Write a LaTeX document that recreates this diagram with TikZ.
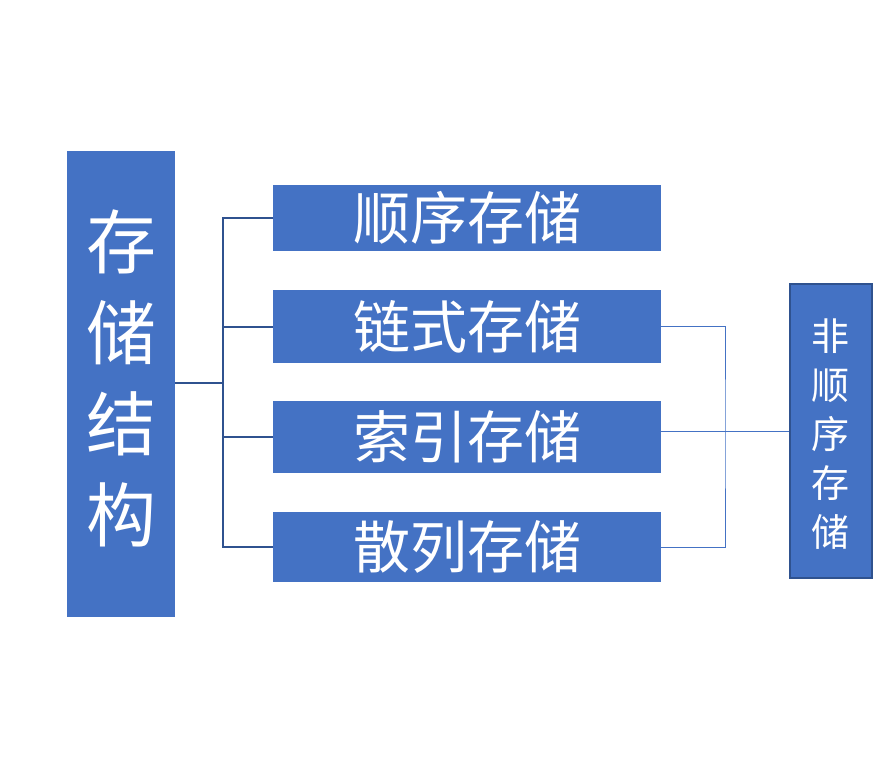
\documentclass[tikz,border=0pt]{standalone}
\usepackage{fontspec}
\setmainfont{Noto Sans CJK SC}
\definecolor{boxblue}{HTML}{4472C4}
\definecolor{darkblue}{HTML}{2F528F}
\begin{document}
\begin{tikzpicture}[x=1pt,y=-1pt,
  blk/.style={fill=boxblue,draw=none,inner sep=0pt,text=white,anchor=north west},
  item/.style={blk,minimum width=388pt,font=\fontsize{57}{60}\selectfont},
  tree/.style={draw=darkblue,line width=2pt},
  thin/.style={draw=boxblue,line width=1pt}]
\useasboundingbox (0,0) rectangle (876,769);
\node[blk,minimum width=108pt,minimum height=466pt] (main) at (67,151) {};
\node[text=white,align=center,inner sep=0pt,
  font=\fontsize{70}{91}\selectfont] (mt) at (121,378) {存\\储\\结\\构};
\node[item,minimum height=66pt] (a) at (273,185) {顺序存储};
\node[item,minimum height=73pt] (b) at (273,290) {链式存储};
\node[item,minimum height=72pt] (c) at (273,401) {索引存储};
\node[item,minimum height=70pt] (d) at (273,512) {散列存储};
\node[blk,draw=darkblue,line width=2pt,minimum width=82pt,minimum height=294pt] (r) at (789,283) {};
\node[text=white,align=center,inner sep=0pt,
  font=\fontsize{38}{49}\selectfont] (rt) at (830,434) {非\\顺\\序\\存\\储};
\coordinate (j) at (223,383);
\draw[tree] (main.east |- j) -- (j);
\draw[tree] (a.west) -| (j) |- (d.west);
\draw[tree] (j |- b.west) -- (b.west);
\draw[tree] (j |- c.west) -- (c.west);
\coordinate (k) at (725,431);
\draw[thin] (b.east) -| (k) |- (d.east);
\draw[thin] (c.east |- k) -- (r.west |- k);
\end{tikzpicture}
\end{document}
